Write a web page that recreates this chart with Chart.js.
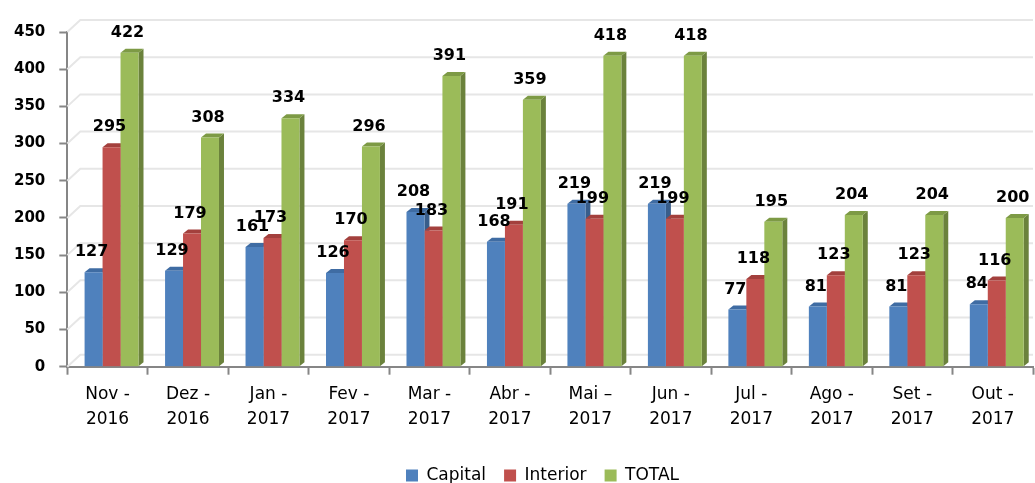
<!DOCTYPE html>
<html>
<head>
<meta charset="utf-8">
<script src="https://cdn.jsdelivr.net/npm/chart.js@4.4.1/dist/chart.umd.min.js"></script>
<style>
html, body { margin: 0; padding: 0; background: #fff; }
#wrap { width: 1035px; height: 483px; }
</style>
</head>
<body>
<div id="wrap"><canvas id="chart" width="1035" height="483"></canvas></div>
<script>
// data
const months = [
    ['Nov -', '2016'], ['Dez -', '2016'], ['Jan -', '2017'], ['Fev -', '2017'],
    ['Mar -', '2017'], ['Abr -', '2017'], ['Mai \u2013', '2017'], ['Jun -', '2017'],
    ['Jul -', '2017'], ['Ago -', '2017'], ['Set -', '2017'], ['Out -', '2017']
];
const capital = [127, 129, 161, 126, 208, 168, 219, 219, 77, 81, 81, 84];
const interior = [295, 179, 173, 170, 183, 191, 199, 199, 118, 123, 123, 116];
const total = [422, 308, 334, 296, 391, 359, 418, 418, 195, 204, 204, 200];
const yMax = 450;
const yStep = 50;

const frontColors = ['#4f81bd', '#c0504d', '#9bbb59'];
const sideColors = ['#385d8a', '#8c3836', '#6b823c'];
const topColors = ['#3f6ca3', '#a3403d', '#7d9a45'];

// 3D look: bar depth, back-wall offset, group shift
const DX = 5, DY = 4;
const WALL_X = 13, WALL_Y = 12;
const GROUP_SHIFT = 4;
const LEGEND_SHIFT = 26;

const bar3d = {
    id: 'bar3d',
    afterLayout(chart) {
        chart.legend.left += LEGEND_SHIFT;
        chart.legend.right += LEGEND_SHIFT;
    },
    afterDatasetsUpdate(chart) {
        chart.data.datasets.forEach((ds, i) => {
            chart.getDatasetMeta(i).data.forEach(bar => { bar.x += GROUP_SHIFT; });
        });
    },
    beforeDatasetsDraw(chart) {
        const ctx = chart.ctx;
        const area = chart.chartArea;
        const ys = chart.scales.y;
        ctx.save();
        // back wall grid lines
        ctx.strokeStyle = '#e6e6e6';
        ctx.lineWidth = 2;
        ys.ticks.forEach(t => {
            const py = ys.getPixelForValue(t.value);
            ctx.beginPath();
            ctx.moveTo(area.left, py);
            ctx.lineTo(area.left + WALL_X, py - WALL_Y);
            ctx.lineTo(area.right, py - WALL_Y);
            ctx.stroke();
        });
        // side and top faces
        chart.data.datasets.forEach((ds, i) => {
            chart.getDatasetMeta(i).data.forEach(bar => {
                const p = bar.getProps(['x', 'y', 'base', 'width'], true);
                const l = p.x - p.width / 2, r = p.x + p.width / 2;
                ctx.fillStyle = sideColors[i];
                ctx.beginPath();
                ctx.moveTo(r, p.y);
                ctx.lineTo(r + DX, p.y - DY);
                ctx.lineTo(r + DX, p.base - DY);
                ctx.lineTo(r, p.base);
                ctx.closePath();
                ctx.fill();
                ctx.fillStyle = topColors[i];
                ctx.beginPath();
                ctx.moveTo(l, p.y);
                ctx.lineTo(l + DX, p.y - DY);
                ctx.lineTo(r + DX, p.y - DY);
                ctx.lineTo(r, p.y);
                ctx.closePath();
                ctx.fill();
            });
        });
        ctx.restore();
    },
    afterDatasetsDraw(chart) {
        const ctx = chart.ctx;
        ctx.save();
        ctx.font = 'bold 16px "DejaVu Sans", sans-serif';
        ctx.fillStyle = '#000';
        ctx.textAlign = 'center';
        ctx.textBaseline = 'bottom';
        chart.data.datasets.forEach((ds, i) => {
            chart.getDatasetMeta(i).data.forEach((bar, j) => {
                ctx.fillText(String(ds.data[j]), bar.x - 2, bar.y - 12);
            });
        });
        ctx.restore();
    }
};

const ctx = document.getElementById('chart').getContext('2d');
new Chart(ctx, {
    type: 'bar',
    data: {
        labels: months,
        datasets: [{
            label: 'Capital',
            data: capital,
            backgroundColor: frontColors[0]
        }, {
            label: 'Interior',
            data: interior,
            backgroundColor: frontColors[1]
        }, {
            label: 'TOTAL',
            data: total,
            backgroundColor: frontColors[2]
        }]
    },
    options: {
        responsive: false,
        animation: false,
        datasets: {
            bar: {
                categoryPercentage: 0.67,
                barPercentage: 1,
                borderWidth: 0
            }
        },
        layout: {
            padding: { left: 0, right: 2, top: 32, bottom: -11 }
        },
        plugins: {
            legend: {
                position: 'bottom',
                labels: {
                    boxWidth: 12,
                    boxHeight: 12,
                    padding: 18,
                    color: '#000',
                    font: { family: '"DejaVu Sans", sans-serif', size: 17 }
                }
            },
            tooltip: { enabled: false }
        },
        scales: {
            x: {
                afterFit(scale) { scale.height += 9; },
                grid: {
                    drawOnChartArea: false,
                    drawTicks: true,
                    tickLength: 8,
                    tickColor: '#868686',
                    tickWidth: 2
                },
                border: { color: '#868686', width: 2 },
                ticks: {
                    color: '#000',
                    padding: 8,
                    maxRotation: 0,
                    autoSkip: false,
                    font: { family: '"DejaVu Sans", sans-serif', size: 17, lineHeight: 1.45 }
                }
            },
            y: {
                min: 0,
                max: yMax,
                grid: {
                    drawOnChartArea: false,
                    drawTicks: true,
                    tickLength: 8,
                    tickColor: '#868686',
                    tickWidth: 2
                },
                border: { color: '#868686', width: 2 },
                ticks: {
                    stepSize: yStep,
                    color: '#000',
                    padding: 14,
                    font: { family: '"DejaVu Sans", sans-serif', size: 15, weight: 'bold' }
                }
            }
        }
    },
    plugins: [bar3d]
});
</script>
</body>
</html>
